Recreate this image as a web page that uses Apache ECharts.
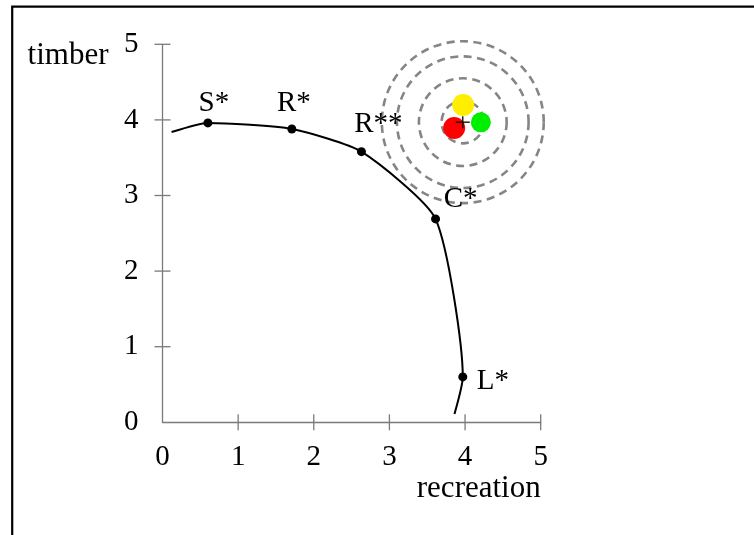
<!DOCTYPE html>
<html>
<head>
<meta charset="utf-8">
<script src="https://cdn.jsdelivr.net/npm/echarts@6/dist/echarts.min.js"></script>
<style>
  html, body { margin: 0; padding: 0; background: #fff; }
  #chart { width: 754px; height: 535px; }
</style>
</head>
<body>
<div id="chart"></div>
<script>
// Production possibility frontier: timber vs recreation
const frontierX = [0.12, 0.60, 1.71, 2.63, 3.61, 3.97, 3.86];
const frontierY = [3.84, 3.96, 3.88, 3.58, 2.69, 0.60, 0.11];

const pointNames = ['S*', 'R*', 'R**', 'C*', 'L*'];
const pointX = [0.60, 1.71, 2.63, 3.61, 3.97];
const pointY = [3.96, 3.88, 3.58, 2.69, 0.60];

// Indifference rings around the bliss point
const blissX = 3.97;
const blissY = 3.97;
const ringRadii = [0.28, 0.58, 0.87, 1.07];

// Preference dots near the bliss point
const dotNames = ['yellow', 'red', 'green'];
const dotX = [3.975, 3.856, 4.209];
const dotY = [4.197, 3.893, 3.968];
const dotColors = ['#ffee00', '#ff0000', '#00ee00'];
const dotSizes = [22, 22, 20];

const tickValues = [1, 2, 3, 4, 5];

const FONT = '"Liberation Serif", "Times New Roman", serif';
const AXIS_COLOR = '#7a7a7a';

const labelOffsets = {
  'S*': [6, -20],
  'R*': [2, -26],
  'R**': [17, -27],
  'C*': [25, -20],
  'L*': [30, 4]
};

const chart = echarts.init(document.getElementById('chart'));

const option = {
  animation: false,
  backgroundColor: '#fff',
  grid: { left: 162.5, right: 213.3, top: 44.3, bottom: 112.7, containLabel: false },
  xAxis: {
    type: 'value', min: 0, max: 5, interval: 1,
    axisLine: { show: true, onZero: false, lineStyle: { color: AXIS_COLOR, width: 1.3 } },
    axisTick: { show: false },
    splitLine: { show: false },
    axisLabel: { margin: 21, color: '#000', fontFamily: FONT, fontSize: 29 },
    name: 'recreation',
    nameLocation: 'end',
    nameGap: 0,
    nameTextStyle: {
      color: '#000', fontFamily: FONT, fontSize: 31,
      align: 'right', verticalAlign: 'top', padding: [51, 0, 0, 0]
    }
  },
  yAxis: {
    type: 'value', min: 0, max: 5, interval: 1,
    axisLine: { show: true, onZero: false, lineStyle: { color: AXIS_COLOR, width: 1.3 } },
    axisTick: { show: false },
    splitLine: { show: false },
    axisLabel: { margin: 24, color: '#000', fontFamily: FONT, fontSize: 29 },
    name: 'timber',
    nameLocation: 'end',
    nameGap: 4,
    nameTextStyle: {
      color: '#000', fontFamily: FONT, fontSize: 31,
      align: 'right', verticalAlign: 'top', padding: [0, 54, 0, 0]
    }
  },
  graphic: [{
    type: 'rect',
    shape: { x: 12.2, y: 6.7, width: 800, height: 600 },
    style: { fill: 'none', stroke: '#000', lineWidth: 2.2 },
    silent: true,
    z: 100
  }],
  series: [
    {
      // axis tick marks crossing both sides of each axis
      type: 'custom',
      data: tickValues.map(v => [v]),
      renderItem: function (params, api) {
        const v = api.value(0);
        const px = api.coord([v, 0]);
        const py = api.coord([0, v]);
        const st = { stroke: AXIS_COLOR, lineWidth: 1.3 };
        return {
          type: 'group',
          children: [
            { type: 'line', shape: { x1: px[0], y1: px[1] - 8, x2: px[0], y2: px[1] + 8 }, style: st },
            { type: 'line', shape: { x1: py[0] - 8, y1: py[1], x2: py[0] + 8, y2: py[1] }, style: st }
          ]
        };
      },
      silent: true,
      z: 1
    },
    {
      // dashed rings around the bliss point
      type: 'custom',
      data: ringRadii.map(r => [blissX, blissY, r]),
      renderItem: function (params, api) {
        const c = api.coord([api.value(0), api.value(1)]);
        const r = api.size([api.value(2), 0])[0];
        return {
          type: 'circle',
          shape: { cx: c[0], cy: c[1], r: r },
          style: { fill: 'none', stroke: '#858585', lineWidth: 2.6, lineDash: [8, 5.5] }
        };
      },
      silent: true,
      z: 2
    },
    {
      type: 'line',
      data: frontierX.map((x, i) => [x, frontierY[i]]),
      smooth: 0.2,
      showSymbol: false,
      lineStyle: { color: '#000', width: 2 },
      silent: true,
      z: 3
    },
    {
      type: 'scatter',
      data: pointNames.map((n, i) => ({
        name: n,
        value: [pointX[i], pointY[i]],
        label: { offset: labelOffsets[n] }
      })),
      symbol: 'circle',
      symbolSize: 9,
      itemStyle: { color: '#000', opacity: 1 },
      label: {
        show: true,
        position: 'inside',
        formatter: p => p.name,
        color: '#000',
        fontFamily: FONT,
        fontSize: 29
      },
      silent: true,
      z: 4
    },
    {
      type: 'scatter',
      data: dotNames.map((n, i) => ({
        name: n,
        value: [dotX[i], dotY[i]],
        symbolSize: dotSizes[i],
        itemStyle: { color: dotColors[i], opacity: 1 }
      })),
      symbol: 'circle',
      silent: true,
      z: 5
    },
    {
      // crosshair at the bliss point
      type: 'custom',
      data: [[blissX, blissY]],
      renderItem: function (params, api) {
        const c = api.coord([api.value(0), api.value(1)]);
        const st = { stroke: '#000', lineWidth: 1.3 };
        return {
          type: 'group',
          children: [
            { type: 'line', shape: { x1: c[0] - 7, y1: c[1], x2: c[0] + 7, y2: c[1] }, style: st },
            { type: 'line', shape: { x1: c[0], y1: c[1] - 6, x2: c[0], y2: c[1] + 6 }, style: st }
          ]
        };
      },
      silent: true,
      z: 6
    }
  ]
};

chart.setOption(option);
</script>
</body>
</html>
